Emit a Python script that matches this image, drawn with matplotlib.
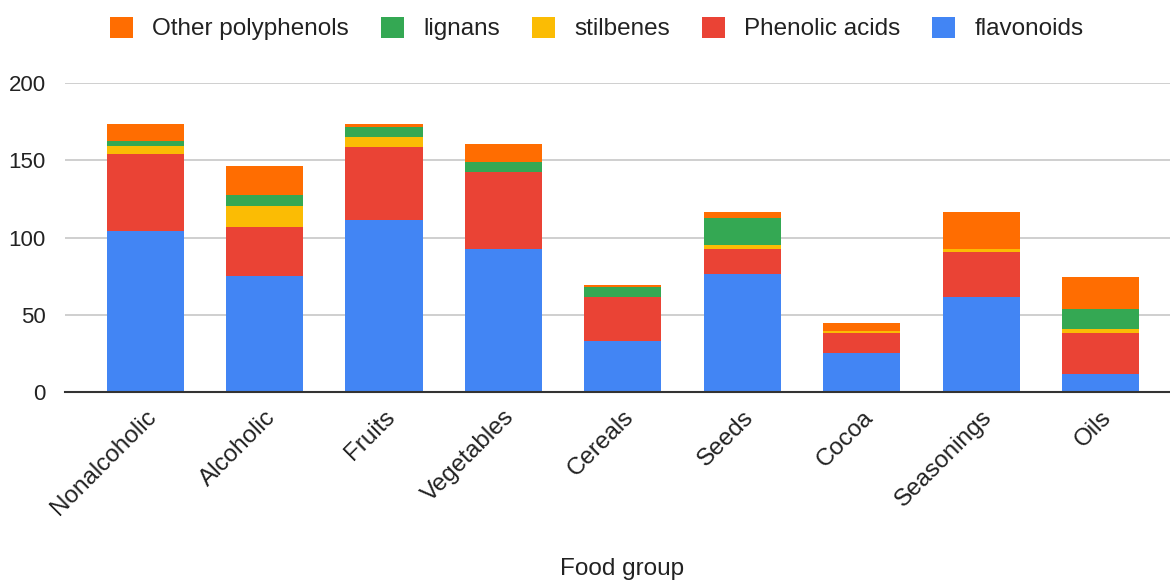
import numpy as np
import matplotlib
matplotlib.use("Agg")
import matplotlib.pyplot as plt
from matplotlib.patches import Patch

plt.rcParams['font.family'] = ['Liberation Sans', 'DejaVu Sans']

# polyphenol content per food group, stacked by class
groups = ["Nonalcoholic", "Alcoholic", "Fruits", "Vegetables", "Cereals",
          "Seeds", "Cocoa", "Seasonings", "Oils"]
flavonoids = [104.6, 75.3, 111.4, 92.7, 33.2, 76.4, 25.2, 61.5, 11.8]
phenolic_acids = [49.8, 31.9, 47.2, 49.7, 28.3, 16.1, 13.4, 29.5, 26.8]
stilbenes = [5.2, 13.6, 6.6, 0.0, 0.0, 2.8, 1.3, 1.5, 2.6]
lignans = [3.0, 6.9, 6.7, 6.5, 6.7, 17.3, 0.0, 0.0, 12.5]
other = [10.9, 18.8, 1.6, 12.0, 1.1, 3.9, 5.1, 24.0, 21.1]

series = [
    ("flavonoids", flavonoids, "#4285F4"),
    ("Phenolic acids", phenolic_acids, "#EA4335"),
    ("stilbenes", stilbenes, "#FBBC04"),
    ("lignans", lignans, "#34A853"),
    ("Other polyphenols", other, "#FF6D01"),
]

fig = plt.figure(figsize=(11.7, 5.82), dpi=100)
ax = fig.add_axes([0.0556, 0.326, 0.9444, 0.531])

x = np.arange(len(groups))
bottom = np.zeros(len(groups))
for name, vals, color in series:
    vals = np.array(vals)
    ax.bar(x, vals, width=0.645, bottom=bottom, color=color, zorder=3, linewidth=0)
    bottom += vals

ax.set_xlim(-0.67, 8.58)
ax.set_ylim(0, 200)
ax.set_yticks([0, 50, 100, 150, 200])
ax.yaxis.grid(True, color="#cccccc", linewidth=1.3, zorder=0)
for s in ["top", "right", "left"]:
    ax.spines[s].set_visible(False)
ax.spines["bottom"].set_color("#333333")
ax.spines["bottom"].set_linewidth(1.5)
ax.spines["bottom"].set_zorder(4)
ax.tick_params(axis="both", length=0, colors="#222222")
ax.tick_params(axis="y", pad=14, labelsize=16)
ax.set_xticks(x)
ax.set_xticklabels(groups, rotation=45, ha="right", rotation_mode="anchor")
ax.tick_params(axis="x", pad=10, labelsize=17.5)

fig.text(0.532, 0.022, "Food group", ha="center", va="center", fontsize=17.5, color="#222222")

handles = [Patch(facecolor=c, label=n) for n, _, c in reversed(series)]
fig.legend(handles=handles, loc="center", bbox_to_anchor=(0.51, 0.951), ncol=5,
           frameon=False, fontsize=17.5, handlelength=0.95, handleheight=0.95,
           columnspacing=1.3, handletextpad=0.8, labelcolor="#222222")

fig.savefig("out.png", dpi=100)
